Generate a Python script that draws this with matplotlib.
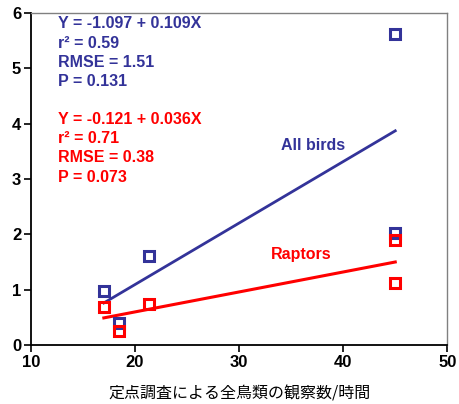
import matplotlib
matplotlib.use("Agg")
import matplotlib.pyplot as plt

# observations per hour (all birds, point counts) vs y values
allX = [17.0, 18.5, 21.3, 45.0, 45.0]
allY = [0.98, 0.39, 1.60, 2.02, 5.62]
raptorX = [17.0, 18.5, 21.3, 45.0, 45.0]
raptorY = [0.69, 0.25, 0.74, 1.89, 1.12]

# regression line endpoints as drawn
fitX = [17.0, 45.0]
allFitY = [0.76, 3.87]
raptorFitY = [0.49, 1.50]

allText = ["Y = -1.097 + 0.109X", "r² = 0.59", "RMSE = 1.51", "P = 0.131"]
raptorText = ["Y = -0.121 + 0.036X", "r² = 0.71", "RMSE = 0.38", "P = 0.073"]

blue = "#333399"
red = "#ff0000"

plt.rcParams['font.family'] = ['Liberation Sans', 'DejaVu Sans']

fig = plt.figure(figsize=(4.59, 4.04), dpi=100)
ax = fig.add_axes([0.0675, 0.146, 0.907, 0.822])

ax.plot(fitX, allFitY, color=blue, lw=2)
ax.plot(fitX, raptorFitY, color=red, lw=2.2)
ax.plot(allX, allY, 's', mfc='none', mec=blue, ms=7.5, mew=2.2)
ax.plot(raptorX, raptorY, 's', mfc='none', mec=red, ms=7.5, mew=2.2)

ax.set_xlim(10, 50)
ax.set_ylim(0, 6)
ax.set_xticks([10, 20, 30, 40, 50])
ax.set_yticks([0, 1, 2, 3, 4, 5, 6])
ax.tick_params(direction='out', length=5, width=1.2, labelsize=12, pad=2)
for lab in ax.get_xticklabels() + ax.get_yticklabels():
    lab.set_fontweight('bold')

ax.spines['left'].set_linewidth(1.3)
ax.spines['bottom'].set_linewidth(1.3)
for s in ['top', 'right']:
    ax.spines[s].set_color('#808080')
    ax.spines[s].set_linewidth(1.0)

for i, t in enumerate(allText):
    ax.text(12.6, 5.8 - i * 0.345, t, color=blue, fontsize=11.5, fontweight='bold', va='center')
for i, t in enumerate(raptorText):
    ax.text(12.6, 4.07 - i * 0.345, t, color=red, fontsize=11.5, fontweight='bold', va='center')

ax.text(37.1, 3.6, "All birds", color=blue, fontsize=11.5, fontweight='bold', ha='center', va='center')
ax.text(36.0, 1.64, "Raptors", color=red, fontsize=11.5, fontweight='bold', ha='center', va='center')

ax.set_xlabel("定点調査による全鳥類の観察数/時間", fontsize=11.5, labelpad=11,
              family=['Noto Sans CJK JP', 'DejaVu Sans'])

fig.savefig("out.png", dpi=100)
